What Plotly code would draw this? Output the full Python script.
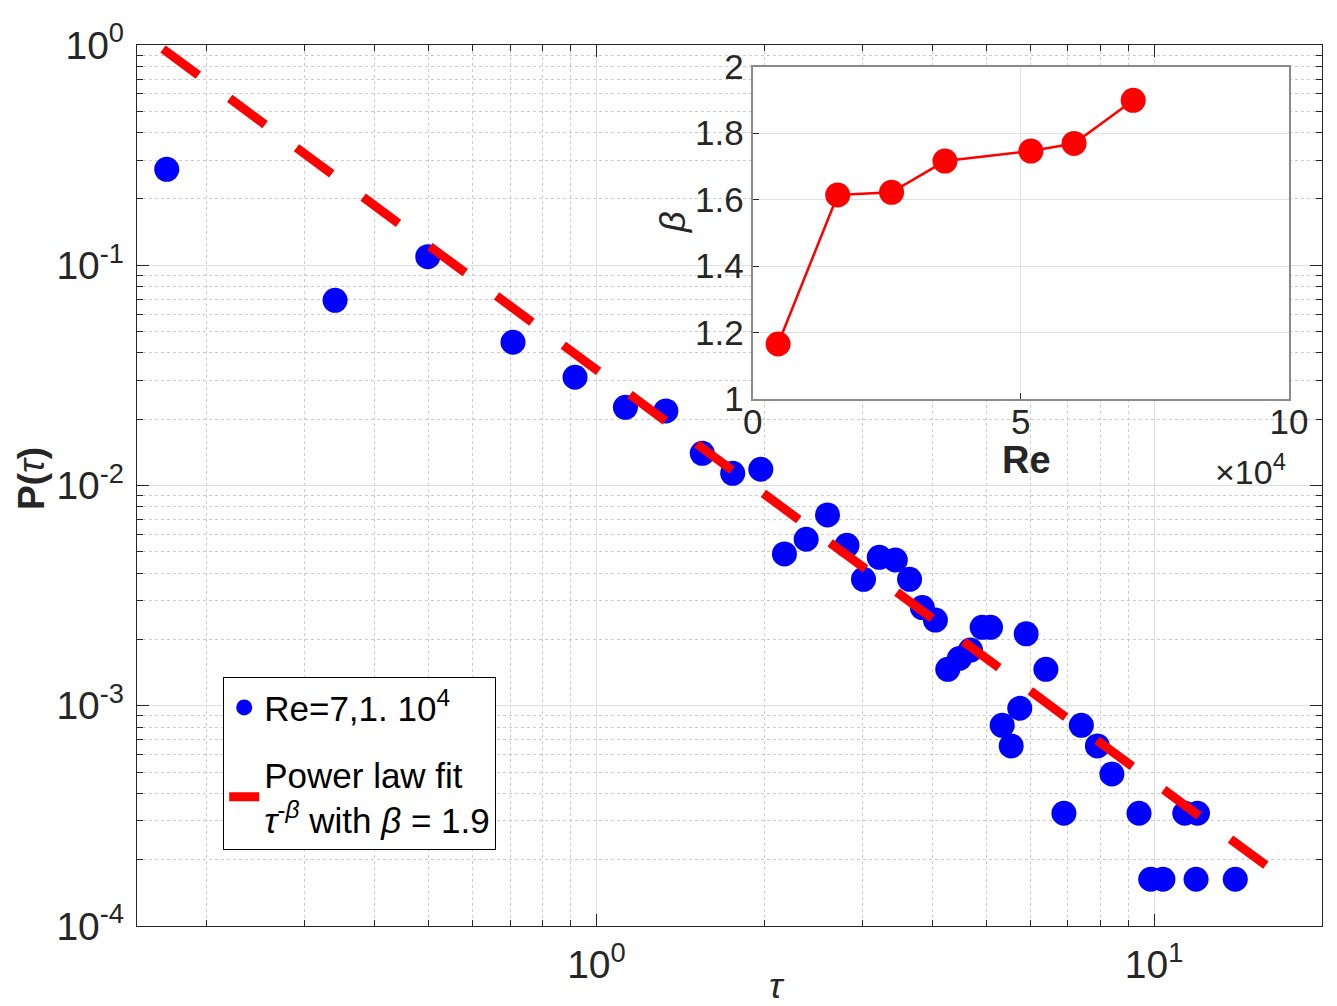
import plotly.graph_objects as go

# ---------------- data ----------------
tau = [0.1696, 0.3398, 0.4983, 0.7085, 0.9153, 1.127, 1.332, 1.548, 1.755, 1.971,
       2.173, 2.377, 2.596, 2.813, 3.012, 3.215, 3.435, 3.643, 3.840, 4.053,
       4.265, 4.475, 4.685, 4.916, 5.088, 5.340, 5.542, 5.742, 5.896, 6.396,
       6.890, 7.404, 7.911, 8.400, 9.395, 9.860, 10.37, 11.35, 11.89, 11.96, 13.98]
p_tau = [0.2727, 0.0693, 0.1094, 0.0447, 0.0310, 0.02264, 0.0218, 0.0140, 0.01136, 0.01185,
         0.00489, 0.0057, 0.00735, 0.00535, 0.00375, 0.00472, 0.00459, 0.00375, 0.00279, 0.00245,
         0.001464, 0.00164, 0.00179, 0.00227, 0.00227, 0.000815, 0.000657, 0.000974, 0.00212, 0.001464,
         0.000325, 0.000815, 0.000657, 0.00049, 0.000325, 0.000163, 0.000163, 0.000325, 0.000163, 0.000325,
         0.000163]

fit_tau = [0.167, 17.52]
fit_p = [0.959, 1.567e-4]

re_vals = [4730, 15850, 25890, 35850, 51870, 59920, 70950]
beta_vals = [1.1655, 1.6138, 1.6219, 1.716, 1.746, 1.769, 1.8987]

x_tickvals = [1, 10]
x_ticktext = ["10<sup>0</sup>", "10<sup>1</sup>"]
y_tickvals = [1e-4, 1e-3, 1e-2, 1e-1, 1]
y_ticktext = ["10<sup>-4</sup>", "10<sup>-3</sup>", "10<sup>-2</sup>", "10<sup>-1</sup>", "10<sup>0</sup>"]
x_minor = [0.2, 0.3, 0.4, 0.5, 0.6, 0.7, 0.8, 0.9, 2, 3, 4, 5, 6, 7, 8, 9, 20]
y_minor = [m * d for d in [1e-4, 1e-3, 1e-2, 1e-1] for m in range(2, 10)]

re_tickvals = [0, 50000, 100000]
re_ticktext = ["0", "5", "10"]
beta_tickvals = [1, 1.2, 1.4, 1.6, 1.8, 2]
beta_ticktext = ["1", "1.2", "1.4", "1.6", "1.8", "2"]

# ---------------- layout constants ----------------
W, H = 1337, 1006
L, R, T, B = 137, 15, 45, 80
PW, PH = W - L - R, H - T - B


def px(xp):
    return (xp - L) / PW


def py(yp):
    return (H - B - yp) / PH


FONT = "Liberation Sans, Arial, Helvetica, sans-serif"
TXT = "#262626"

fig = go.Figure()

fig.add_trace(go.Scatter(
    x=tau, y=p_tau, mode="markers",
    marker=dict(color="#0000ff", size=25, line=dict(width=0)),
    name="Re=7,1. 10<sup>4</sup>", legendgroup="a",
    xaxis="x", yaxis="y"))

fig.add_trace(go.Scatter(
    x=fit_tau, y=fit_p, mode="lines",
    line=dict(color="#ff0000", width=9, dash="44px,39px"),
    name="Power law fit<br><i>τ</i><sup>-<i>β</i></sup> with <i>β</i> = 1.9", legendgroup="b",
    xaxis="x", yaxis="y"))

fig.add_trace(go.Scatter(
    x=re_vals, y=beta_vals, mode="lines+markers",
    line=dict(color="#ff0000", width=2.5),
    marker=dict(color="#ff0000", size=25),
    showlegend=False, xaxis="x2", yaxis="y2"))

main_axis_common = dict(
    showline=True, linecolor=TXT, linewidth=1.3, mirror="allticks",
    ticks="inside", ticklen=12, tickcolor=TXT, tickwidth=1.2,
    showgrid=True, gridcolor="#dedede", gridwidth=1,
    zeroline=False, automargin=False, ticklabelstandoff=4,
    tickfont=dict(family=FONT, size=39, color=TXT),
)

minor_common = dict(tickmode="array", ticks="inside", ticklen=6,
                    tickcolor=TXT, showgrid=True, gridcolor="#cdcdcd",
                    griddash="dot", gridwidth=1)

inset_common = dict(
    showline=True, linecolor="#8a8a8a", linewidth=2, mirror=True,
    ticks="inside", ticklen=6, tickcolor=TXT,
    showgrid=True, gridcolor="#e0e0e0", zeroline=False, automargin=False,
    tickfont=dict(family=FONT, size=35, color=TXT),
)

fig.update_layout(
    width=W, height=H,
    margin=dict(l=L, r=R, t=T, b=B, autoexpand=False),
    paper_bgcolor="white", plot_bgcolor="white",
    font=dict(family=FONT, color=TXT),
    xaxis=dict(type="log", range=[-0.82391, 1.30103],
               tickmode="array", tickvals=x_tickvals, ticktext=x_ticktext,
               minor=dict(tickvals=x_minor, **minor_common),
               **main_axis_common),
    yaxis=dict(type="log", range=[-4, 0],
               tickmode="array", tickvals=y_tickvals, ticktext=y_ticktext,
               minor=dict(tickvals=y_minor, **minor_common),
               **main_axis_common),
    xaxis2=dict(domain=[px(752.7), px(1289)], anchor="y2", range=[0, 100000],
                tickmode="array", tickvals=re_tickvals, ticktext=re_ticktext,
                ticklabelstandoff=-9, **inset_common),
    yaxis2=dict(domain=[py(399), py(66.7)], anchor="x2", range=[1, 2],
                tickmode="array", tickvals=beta_tickvals, ticktext=beta_ticktext,
                **inset_common),
    legend=dict(x=px(223), y=py(677), xanchor="left", yanchor="top",
                bgcolor="white", bordercolor="#000000", borderwidth=1.2,
                font=dict(family=FONT, size=35, color="#000000"),
                tracegroupgap=18, valign="middle"),
    showlegend=True,
)

annotations = [
    dict(text="<i>τ</i>", x=px(777), y=py(986), xref="paper", yref="paper",
         xanchor="center", yanchor="middle", showarrow=False,
         font=dict(family=FONT, size=36, color=TXT)),
    dict(text="<b>P(</b><i>τ</i><b>)</b>", x=px(31), y=py(479), xref="paper", yref="paper",
         xanchor="center", yanchor="middle", textangle=-90, showarrow=False,
         font=dict(family=FONT, size=37, color=TXT)),
    dict(text="<b>Re</b>", x=px(1026), y=py(460), xref="paper", yref="paper",
         xanchor="center", yanchor="middle", showarrow=False,
         font=dict(family=FONT, size=38, color=TXT)),
    dict(text="×10<sup>4</sup>", x=px(1288), y=py(469), xref="paper", yref="paper",
         xanchor="right", yanchor="middle", showarrow=False,
         font=dict(family=FONT, size=34, color=TXT)),
    dict(text="<i>β</i>", x=px(672), y=py(222), xref="paper", yref="paper",
         xanchor="center", yanchor="middle", textangle=-90, showarrow=False,
         font=dict(family=FONT, size=36, color=TXT)),
]
fig.update_layout(annotations=annotations)

fig.write_html("out.html")
